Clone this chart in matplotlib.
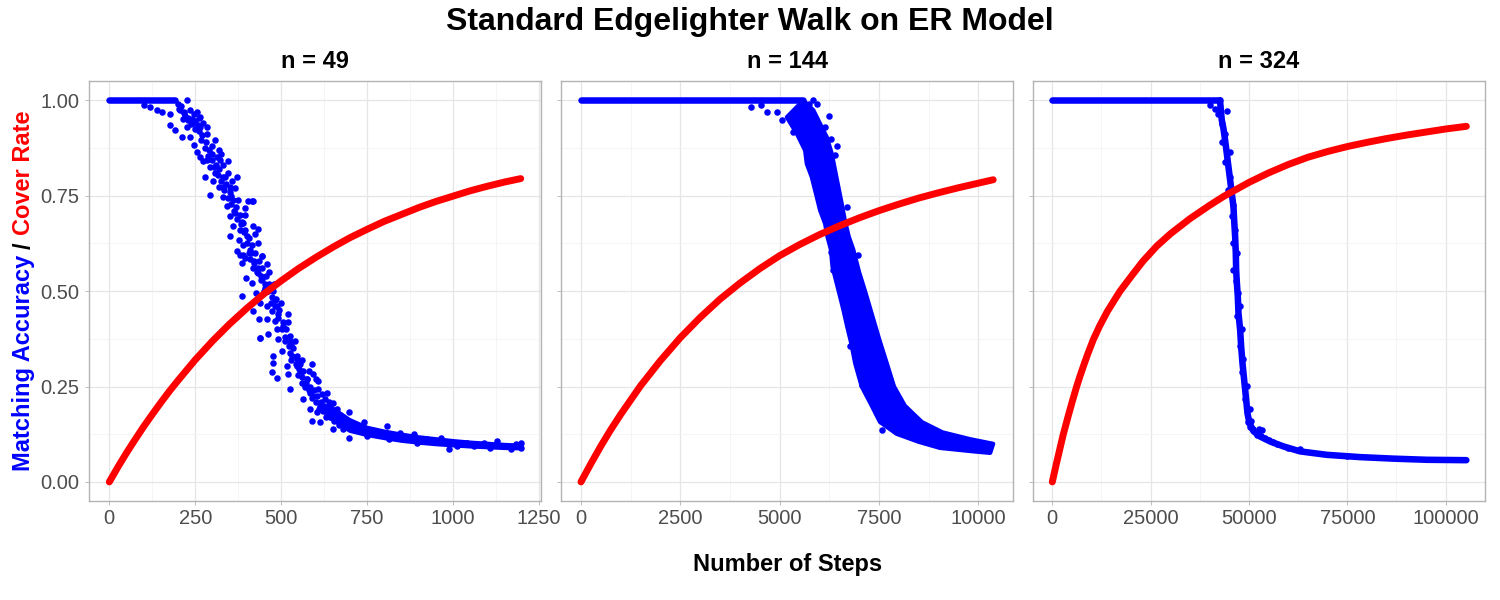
import matplotlib
matplotlib.use("Agg")
import matplotlib.pyplot as plt

plt.rcParams['font.family'] = ['Liberation Sans', 'DejaVu Sans']

BLUE = '#0000FF'
RED = '#FF0000'

title = "Standard Edgelighter Walk on ER Model"
panel_titles = ["n = 49", "n = 144", "n = 324"]
x_label = "Number of Steps"
y_label_parts = [("Matching Accuracy", BLUE), ("/", "black"), ("Cover Rate", RED)]

y_ticks = [0.00, 0.25, 0.50, 0.75, 1.00]
y_tick_labels = ["0.00", "0.25", "0.50", "0.75", "1.00"]
x_ticks_49 = [0, 250, 500, 750, 1000, 1250]
x_ticks_144 = [0, 2500, 5000, 7500, 10000]
x_ticks_324 = [0, 25000, 50000, 75000, 100000]

# ---------------- n = 49 ----------------
n49_plateau_end = 190
n49_cov_x = [0, 25, 50, 75, 100, 125, 150, 175, 200, 250, 300, 350, 400, 450, 500, 550, 600, 650, 700, 750,
             800, 850, 900, 950, 1000, 1050, 1100, 1150, 1197]
n49_cov_y = [0, 0.039, 0.076, 0.111, 0.145, 0.177, 0.208, 0.238, 0.266, 0.32, 0.369, 0.414, 0.455, 0.493, 0.527,
             0.559, 0.588, 0.615, 0.64, 0.662, 0.683, 0.701, 0.719, 0.735, 0.749, 0.763, 0.775, 0.786, 0.795]
n49_acc_x = [226, 100, 119, 138, 153, 178, 202, 216, 235, 245, 255, 264,
             177, 192, 211, 226, 245, 264, 274, 284, 235, 245, 255, 264, 284, 274, 294, 308, 318, 313, 323, 344,
             279, 303, 308, 318, 294, 332, 337, 356, 371, 332, 342, 352, 395, 416, 352, 366, 390, 361, 419, 434,
             352, 376, 390, 400, 409, 444, 390, 371,
             200, 210, 220, 230, 240, 250, 260, 270, 280, 290, 300, 310, 320, 330, 340, 350, 360, 370, 380, 385,
             395, 405, 415, 425, 435, 445, 455, 465, 475, 485, 495, 505, 515, 525, 535, 545, 555, 565, 575, 585,
             595, 605, 615, 625, 635, 645,
             215, 260, 285, 300, 325, 330, 345, 355, 365, 375, 380, 395, 405, 420, 425, 430, 440, 450, 460, 470,
             480, 490, 500, 510, 520, 530, 540, 550, 560, 570, 580, 590, 600, 610, 620, 630, 640,
             380, 394, 385, 409, 443, 419, 433, 399, 414, 443, 465, 385, 428, 453, 438, 419, 458, 472, 482, 487,
             436, 458, 482, 521, 438, 462, 487, 506, 490, 525, 530, 477, 501, 525, 545, 477, 472, 489, 516, 521,
             545, 555, 589, 526, 560, 574, 594, 565, 584, 608, 608, 633, 628, 584, 589, 613, 604, 638, 652, 662,
             647, 652, 672, 696, 681, 696, 710, 740, 730, 750, 769, 789, 808, 813, 838, 847, 867, 886, 896, 925,
             944, 964, 988, 983, 1012, 1041, 1061, 1090, 1109, 1129, 1148, 1168, 1182, 1197, 1197,
             403, 418, 439, 434,
             205, 218, 228, 238, 248, 258, 268, 278, 288, 298, 305, 315, 325, 335, 345, 355, 362, 372, 382, 392,
             402, 412, 422, 432, 442, 452, 462, 472, 482, 492, 502, 512, 522, 532, 542, 552, 562, 572, 582, 592,
             602, 612, 622, 632, 642, 655, 668, 680]
n49_acc_y = [1.0, 0.987, 0.983, 0.974, 0.97, 0.965, 0.978, 0.97, 0.974, 0.965, 0.97, 0.957,
             0.935, 0.922, 0.905, 0.93, 0.94, 0.93, 0.94, 0.913, 0.905, 0.883, 0.865, 0.852, 0.844, 0.84, 0.826, 0.896, 0.87, 0.852, 0.844, 0.84,
             0.8, 0.79, 0.81, 0.774, 0.753, 0.774, 0.8, 0.79, 0.8, 0.748, 0.722, 0.774, 0.718, 0.735, 0.696, 0.705, 0.679, 0.67, 0.67, 0.627,
             0.644, 0.635, 0.622, 0.644, 0.609, 0.592, 0.596, 0.605,
             0.99, 0.985, 0.96, 0.955, 0.95, 0.945, 0.92, 0.91, 0.89, 0.87, 0.86, 0.83, 0.82, 0.8, 0.78, 0.76, 0.74, 0.72, 0.7, 0.68,
             0.66, 0.64, 0.62, 0.6, 0.58, 0.56, 0.54, 0.52, 0.5, 0.48, 0.45, 0.42, 0.4, 0.37, 0.35, 0.33, 0.31, 0.29, 0.27, 0.25,
             0.24, 0.225, 0.21, 0.2, 0.19, 0.18,
             0.95, 0.955, 0.93, 0.88, 0.86, 0.83, 0.81, 0.75, 0.77, 0.74, 0.66, 0.7, 0.6, 0.58, 0.65, 0.55, 0.53, 0.5, 0.57, 0.47,
             0.52, 0.43, 0.47, 0.38, 0.42, 0.32, 0.37, 0.28, 0.32, 0.25, 0.29, 0.22, 0.27, 0.19, 0.23, 0.17, 0.21,
             0.596, 0.587, 0.574, 0.583, 0.592, 0.561, 0.548, 0.535, 0.522, 0.531, 0.55, 0.487, 0.496, 0.509, 0.469, 0.448, 0.461, 0.448, 0.478, 0.461,
             0.426, 0.426, 0.422, 0.439, 0.378, 0.387, 0.4, 0.408, 0.374, 0.382, 0.36, 0.33, 0.343, 0.339, 0.321, 0.312, 0.288, 0.273, 0.304, 0.282,
             0.304, 0.286, 0.308, 0.243, 0.26, 0.269, 0.282, 0.217, 0.234, 0.265, 0.243, 0.234, 0.217, 0.19, 0.16, 0.156, 0.182, 0.2, 0.208, 0.19,
             0.173, 0.138, 0.164, 0.182, 0.156, 0.116, 0.147, 0.156, 0.134, 0.121, 0.129, 0.125, 0.147, 0.112, 0.121, 0.129, 0.116, 0.125, 0.103, 0.112,
             0.108, 0.116, 0.086, 0.103, 0.095, 0.103, 0.095, 0.103, 0.09, 0.108, 0.095, 0.086, 0.099, 0.09, 0.103,
             0.735, 0.735, 0.377, 0.664,
             0.975, 0.968, 0.948, 0.938, 0.925, 0.935, 0.895, 0.875, 0.855, 0.845, 0.825, 0.805, 0.79, 0.765, 0.745, 0.728, 0.71, 0.69, 0.675, 0.655,
             0.625, 0.6, 0.575, 0.56, 0.54, 0.52, 0.5, 0.485, 0.46, 0.44, 0.4, 0.37, 0.355, 0.33, 0.31, 0.295, 0.275, 0.26, 0.24, 0.225,
             0.21, 0.2, 0.185, 0.18, 0.17, 0.16, 0.15, 0.14]
n49_tail_x = [640, 700, 750, 800, 850, 900, 950, 1000, 1050, 1100, 1150, 1200]
n49_tail_hi = [0.2, 0.163, 0.143, 0.133, 0.125, 0.118, 0.113, 0.108, 0.104, 0.101, 0.098, 0.096]
n49_tail_lo = [0.168, 0.133, 0.122, 0.114, 0.107, 0.102, 0.098, 0.095, 0.092, 0.09, 0.088, 0.087]

# ---------------- n = 144 ----------------
n144_plateau_end = 5598
n144_cov_x = [0, 250, 500, 750, 1000, 1500, 2000, 2500, 3000, 3500, 4000, 4500, 5000, 5500, 6000, 6500,
              7000, 7500, 8000, 8500, 9000, 9500, 10000, 10375]
n144_cov_y = [0, 0.048, 0.094, 0.137, 0.177, 0.252, 0.318, 0.378, 0.431, 0.479, 0.521, 0.559, 0.593, 0.622,
              0.648, 0.671, 0.692, 0.711, 0.728, 0.744, 0.758, 0.771, 0.783, 0.792]
# right (upper) edge of the dense cloud, top to bottom
n144_hi_x = [5598, 5850, 6017, 6185, 6311, 6395, 6479, 6562, 6640, 6740, 6854, 7000, 7150, 7320, 7500, 7700,
             7880, 8150, 8580, 9100, 9800, 10375]
n144_hi_y = [1.0, 0.974, 0.939, 0.904, 0.861, 0.817, 0.773, 0.730, 0.686, 0.643, 0.609, 0.55, 0.5, 0.44, 0.376,
             0.31, 0.25, 0.2, 0.157, 0.13, 0.112, 0.1]
# left (lower) edge of the dense cloud, top to bottom
n144_lo_x = [5180, 5431, 5640, 5682, 5808, 5934, 6017, 6143, 6202, 6290, 6330, 6437, 6520, 6604, 6700, 6800,
             6900, 7065, 7316, 7525, 7944, 8500, 9035, 9873, 10300]
n144_lo_y = [0.956, 0.913, 0.869, 0.834, 0.799, 0.747, 0.712, 0.677, 0.643, 0.609, 0.564, 0.52, 0.486, 0.451,
             0.407, 0.364, 0.311, 0.25, 0.2, 0.157, 0.126, 0.105, 0.089, 0.08, 0.076]
n144_out_x = [4274, 4534, 4677, 4928, 5054, 5347, 5833, 6143, 6294, 6395, 6034, 6185, 6981, 6294, 6353, 6772,
              7065, 7568, 5750, 5700, 5950, 6250, 6450, 6700]
n144_out_y = [0.983, 0.987, 0.969, 0.969, 0.949, 0.917, 1.0, 0.930, 0.900, 0.856, 0.721, 0.673, 0.595, 0.603,
              0.555, 0.355, 0.255, 0.137, 0.99, 0.985, 0.99, 0.96, 0.88, 0.72]

# ---------------- n = 324 ----------------
n324_plateau_end = 42630
n324_cov_x = [0, 1000, 2000, 2800, 4000, 5000, 6190, 7000, 8000, 9000, 10430, 12000, 14000, 17220, 20000,
              23000, 26550, 30000, 35000, 40000, 43510, 50000, 55000, 60000, 65000, 70000, 75000, 80000,
              85000, 90000, 95000, 100000, 105260]
n324_cov_y = [0, 0.046, 0.09, 0.125, 0.171, 0.208, 0.25, 0.276, 0.306, 0.335, 0.373, 0.408, 0.447, 0.5, 0.538,
              0.578, 0.618, 0.65, 0.69, 0.725, 0.748, 0.785, 0.81, 0.832, 0.851, 0.866, 0.879, 0.89,
              0.9, 0.909, 0.917, 0.925, 0.932]
n324_acc_x = [42630, 43090, 43510, 43940, 44360, 44780, 45210, 45630, 46060, 46230, 46480, 46650, 46740, 46900,
              47160, 47330, 47760, 48010, 48350, 48770, 49200, 49620, 50130, 51150, 52840, 55390, 58780, 63020,
              69810, 78290, 86770, 95250, 105260]
n324_acc_y = [1.0, 0.948, 0.926, 0.895, 0.861, 0.826, 0.791, 0.756, 0.721, 0.686, 0.643, 0.599, 0.555, 0.525,
              0.486, 0.442, 0.398, 0.355, 0.311, 0.268, 0.224, 0.180, 0.154, 0.133, 0.119, 0.106, 0.093, 0.080,
              0.071, 0.065, 0.061, 0.058, 0.057]
n324_pts_x = [40120, 41390, 42240, 44330, 43060, 43900, 43060, 45170, 43900, 45170, 44740, 46010, 45600, 46440,
              46010, 46870, 46010, 46700, 47280, 47710, 46870, 48140, 47710, 48560, 48140, 49410, 48990, 50260,
              49830, 50260, 53230, 51960, 56180, 62960, 74830,
              51000, 52000, 53000, 54000, 50500, 52500, 55000, 57000, 60000]
n324_pts_y = [0.988, 0.978, 0.965, 0.972, 0.939, 0.913, 0.891, 0.865, 0.839, 0.8, 0.765, 0.726, 0.696, 0.661,
              0.626, 0.6, 0.556, 0.526, 0.496, 0.461, 0.435, 0.4, 0.356, 0.322, 0.287, 0.252, 0.217, 0.191,
              0.157, 0.143, 0.135, 0.122, 0.104, 0.087, 0.069,
              0.14, 0.128, 0.12, 0.115, 0.16, 0.14, 0.11, 0.1, 0.09]

# ---------------- layout ----------------
W, H = 1500, 600
fig = plt.figure(figsize=(W / 100, H / 100), dpi=100)
fig.patch.set_facecolor('white')

panel_px = [(89.3, 541.0), (561.0, 1013.3), (1032.7, 1485.0)]
top_px, bot_px = 81.3, 501.0
xlims = [(-58.2, 1256), (-503, 10881), (-4982, 110000)]
xticks = [x_ticks_49, x_ticks_144, x_ticks_324]

MS = 22      # scatter marker area (points^2)
LW = 4.7     # line width equal to marker diameter
TICK_FS = 14.5

axes = []
for i, ((l, r), xl, xt) in enumerate(zip(panel_px, xlims, xticks)):
    ax = fig.add_axes([l / W, (H - bot_px) / H, (r - l) / W, (bot_px - top_px) / H])
    ax.set_xlim(*xl)
    ax.set_ylim(-0.05, 1.05)
    ax.set_xticks(xt)
    ax.set_xticklabels([str(v) for v in xt])
    step = xt[1] - xt[0]
    minors = [v + step / 2 for v in xt[:-1]]
    if xt[-1] + step / 2 < xl[1]:
        minors.append(xt[-1] + step / 2)
    ax.set_xticks(minors, minor=True)
    ax.set_yticks(y_ticks)
    ax.set_yticks([0.125, 0.375, 0.625, 0.875], minor=True)
    if i == 0:
        ax.set_yticklabels(y_tick_labels)
    else:
        ax.set_yticklabels([])
        ax.tick_params(axis='y', which='both', length=0)
    ax.grid(which='major', color='#E6E6E6', linewidth=0.9)
    ax.grid(which='minor', color='#F2F2F2', linewidth=0.55)
    ax.set_axisbelow(True)
    for s in ax.spines.values():
        s.set_color('#B3B3B3')
        s.set_linewidth(1.0)
    ax.tick_params(axis='both', which='major', labelsize=TICK_FS, labelcolor='#4D4D4D',
                   color='#B3B3B3', length=3, width=0.6, pad=3)
    ax.tick_params(axis='both', which='minor', length=0)
    if i == 0:
        ax.tick_params(axis='y', which='major', length=3, pad=4)
    axes.append(ax)
    fig.text(((l + r) / 2) / W, 1 - 61 / H, panel_titles[i], ha='center', va='center',
             fontsize=17, fontweight='bold', color='black')

# ---- n = 49 ----
ax = axes[0]
ax.plot([0, n49_plateau_end], [1, 1], color=BLUE, lw=LW, solid_capstyle='round', zorder=3)
ax.fill(n49_tail_x + n49_tail_x[::-1], n49_tail_hi + n49_tail_lo[::-1], color=BLUE, lw=2.5,
        joinstyle='round', zorder=3)
ax.scatter(n49_acc_x, n49_acc_y, s=MS, color=BLUE, linewidths=0, zorder=3)
ax.plot(n49_cov_x, n49_cov_y, color=RED, lw=5.0, solid_capstyle='round', solid_joinstyle='round', zorder=4)

# ---- n = 144 ----
ax = axes[1]
ax.plot([0, n144_plateau_end], [1, 1], color=BLUE, lw=LW, solid_capstyle='round', zorder=3)
ax.fill(n144_hi_x + n144_lo_x[::-1], n144_hi_y + n144_lo_y[::-1], color=BLUE, lw=3.0,
        joinstyle='round', zorder=3)
ax.scatter(n144_out_x, n144_out_y, s=MS, color=BLUE, linewidths=0, zorder=3)
ax.plot(n144_cov_x, n144_cov_y, color=RED, lw=5.0, solid_capstyle='round', solid_joinstyle='round', zorder=4)

# ---- n = 324 ----
ax = axes[2]
ax.plot([0, n324_plateau_end], [1, 1], color=BLUE, lw=LW, solid_capstyle='round', zorder=3)
ax.plot(n324_acc_x, n324_acc_y, color=BLUE, lw=LW, solid_capstyle='round', solid_joinstyle='round', zorder=3)
ax.scatter(n324_pts_x, n324_pts_y, s=MS, color=BLUE, linewidths=0, zorder=3)
ax.plot(n324_cov_x, n324_cov_y, color=RED, lw=5.0, solid_capstyle='round', solid_joinstyle='round', zorder=4)

# ---- titles ----
fig.text(0.5, 1 - 22 / H, title, ha='center', va='center', fontsize=23, fontweight='bold')
fig.text(((panel_px[0][0] + panel_px[2][1]) / 2) / W, 1 - 565 / H, x_label, ha='center', va='center',
         fontsize=17, fontweight='bold')

# ---- multi-coloured y label ----
fig.canvas.draw()
renderer = fig.canvas.get_renderer()
fs_y = 17


def text_len(s):
    t = fig.text(0, 0, s, fontsize=fs_y, fontweight='bold')
    w = t.get_window_extent(renderer).width
    t.remove()
    return w


L_full = text_len("Matching Accuracy / Cover Rate")
L_a = text_len("Matching Accuracy")
L_c = text_len("Cover Rate")
L_slash = text_len("/")
yc = H - (top_px + bot_px) / 2
y0 = yc - L_full / 2
xc = 24
starts = [y0, y0 + (L_a + (L_full - L_c - L_a) / 2) - L_slash / 2, y0 + L_full - L_c]
for (txt, col), ys in zip(y_label_parts, starts):
    fig.text(xc / W, ys / H, txt, rotation=90, ha='center', va='bottom', fontsize=fs_y,
             fontweight='bold', color=col)

fig.savefig('out.png', dpi=100, facecolor='white')
